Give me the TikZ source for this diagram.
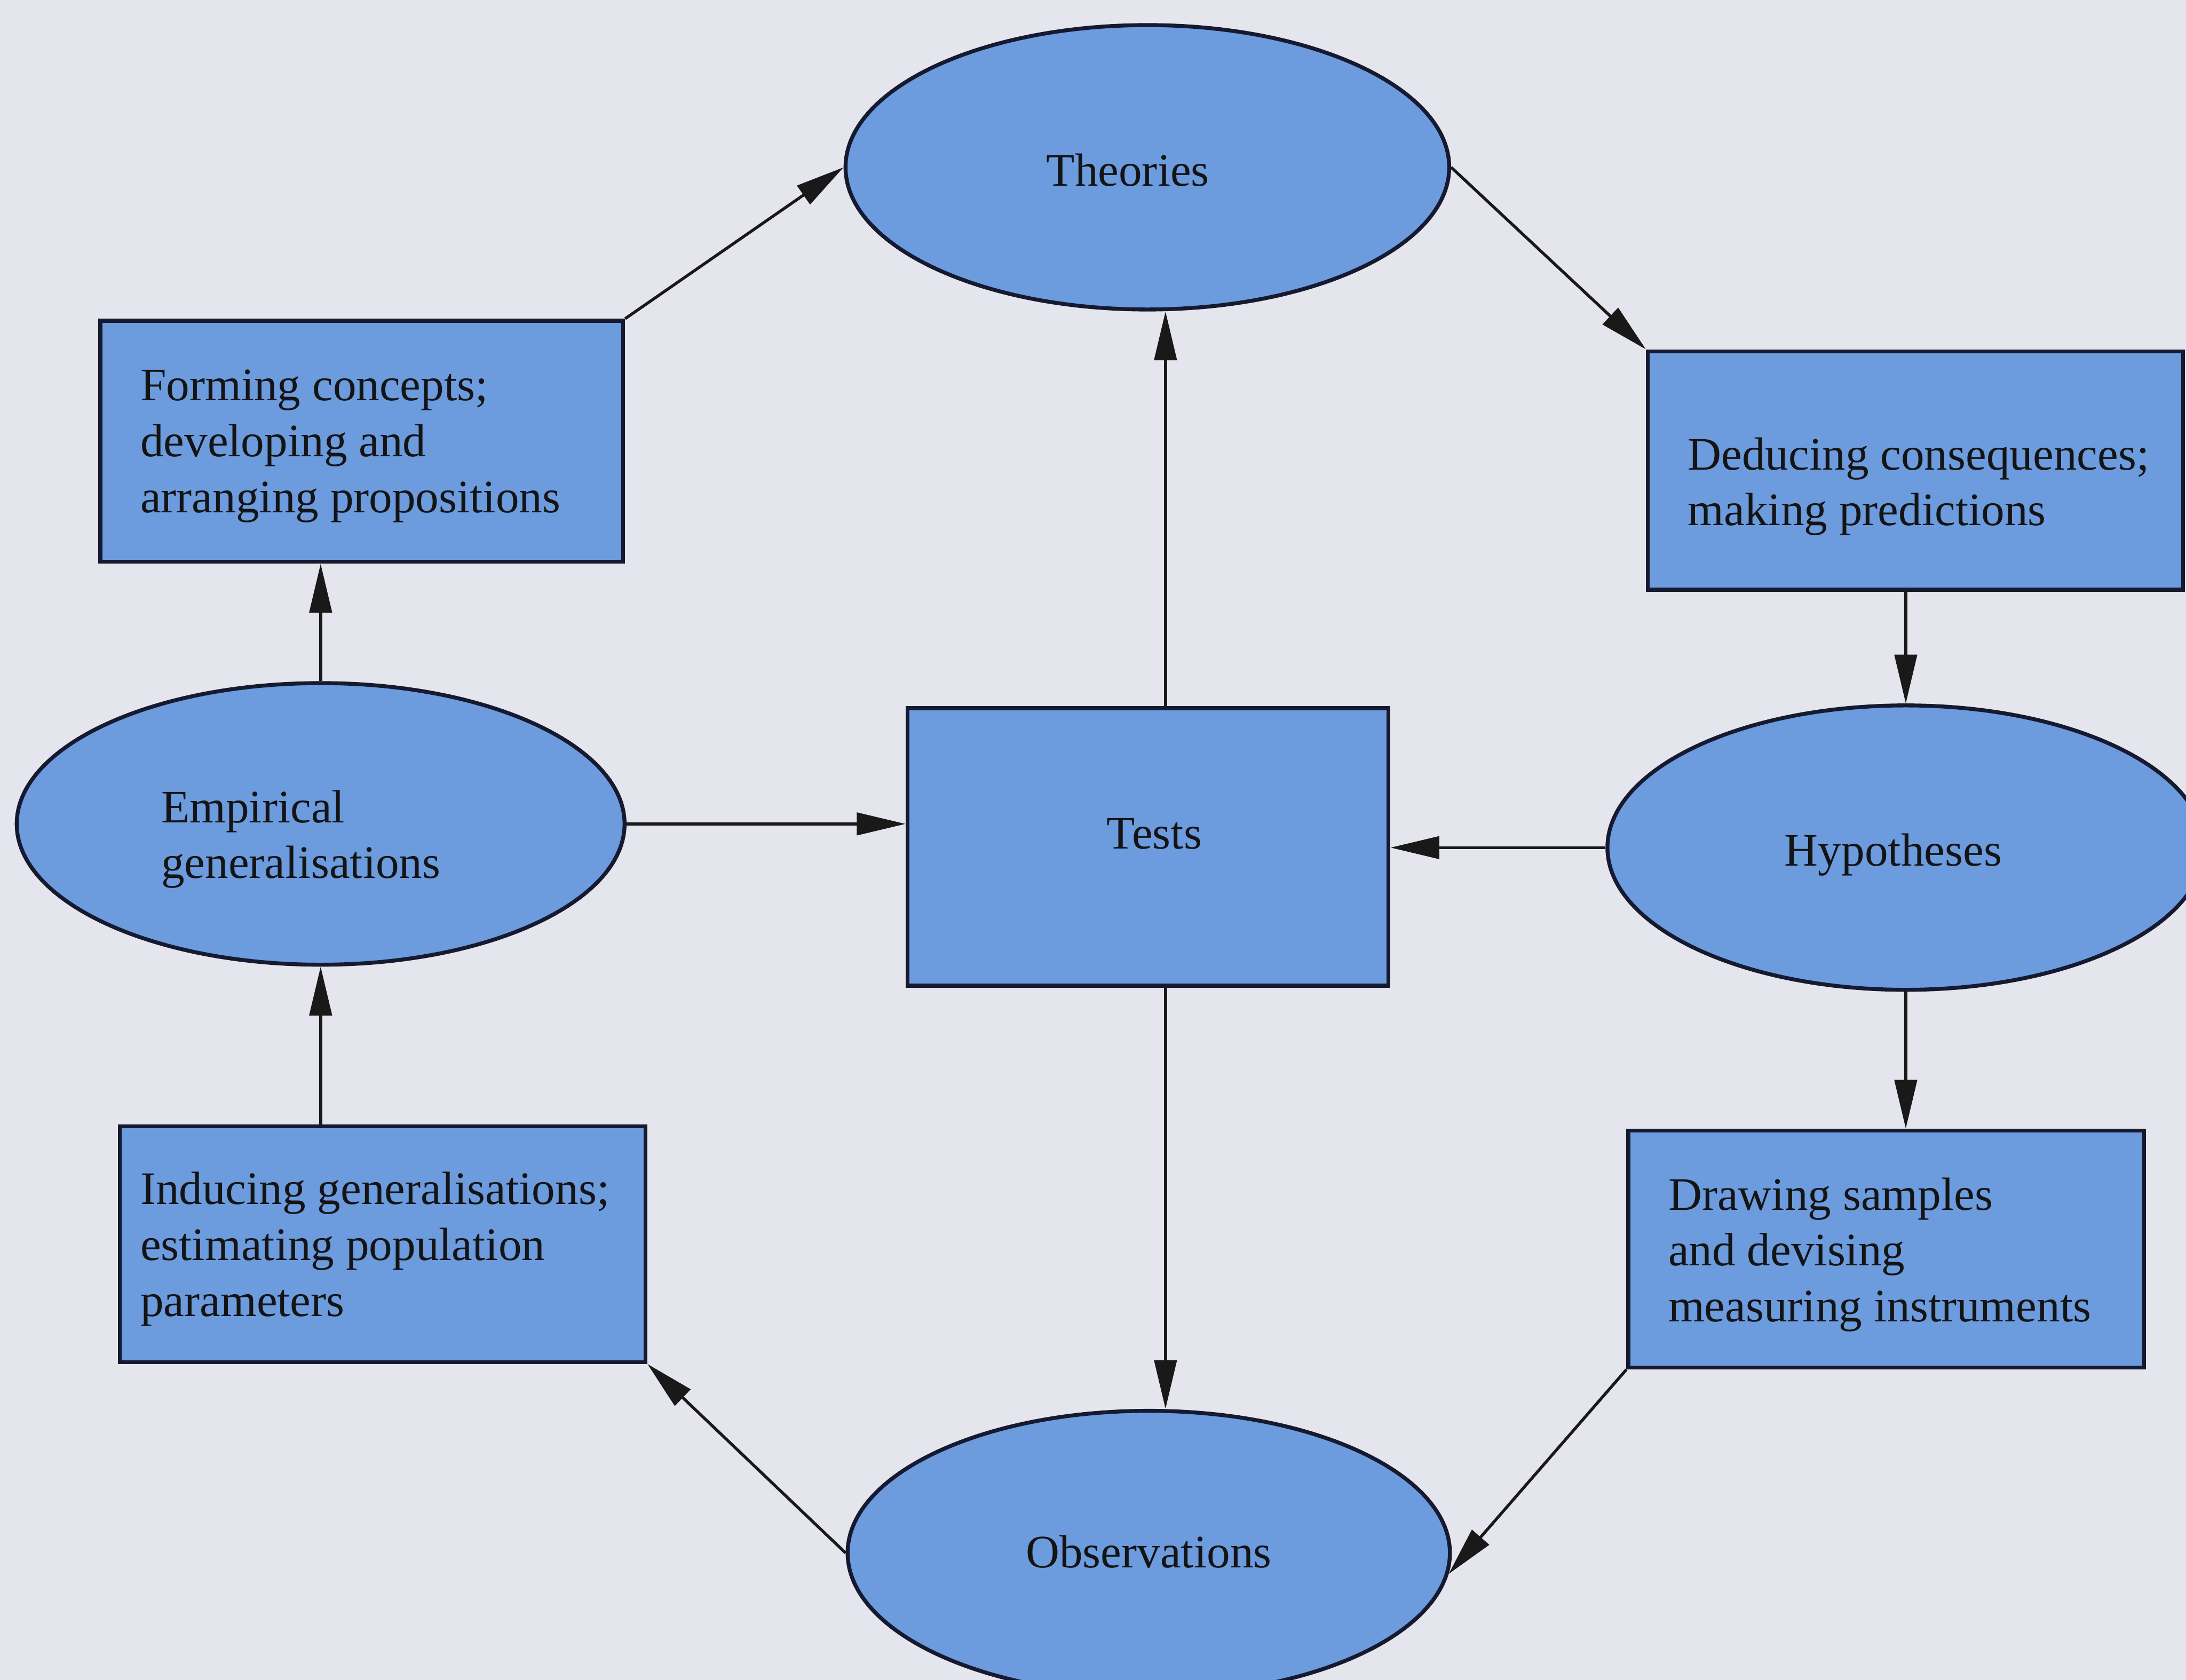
\documentclass[tikz,border=0pt]{standalone}
\usepackage{fontspec}
\setmainfont{Liberation Serif}
\usetikzlibrary{shapes.geometric,arrows.meta}
\definecolor{pagebg}{RGB}{229,229,237}
\definecolor{cellblue}{RGB}{108,155,222}
\definecolor{inkline}{RGB}{22,26,48}
\begin{document}
\begin{tikzpicture}[x=0.1mm,y=-0.1mm,
  shapebase/.style={draw=inkline, line width=0.8pt, fill=cellblue, inner sep=0pt},
  procbox/.style={shapebase, rectangle},
  stagecirc/.style={shapebase, ellipse},
  lbl/.style={font=\fontsize{9.5}{11.4}\selectfont, text=black!92, align=left, inner sep=0pt},
  flow/.style={draw=black!90, line width=0.6pt, -{Triangle[length=3.5mm,width=1.6mm]}}]
% page
\fill[pagebg] (0,0) rectangle (1568,1205);
\useasboundingbox (0,0) rectangle (1568,1205);
\coordinate (vx) at (836,0);

% stages (ellipses)
\node[stagecirc, minimum width=43.3mm, minimum height=20.4mm] (theo) at (823,120) {};
\node[stagecirc, minimum width=43.6mm, minimum height=20.2mm] (emp) at (230,591) {};
\node[stagecirc, minimum width=42.8mm, minimum height=20.4mm] (hyp) at (1367,608) {};
\node[stagecirc, minimum width=43.2mm, minimum height=20.4mm] (obs) at (824,1114) {};

% processes (boxes)
\node[procbox, minimum width=37.5mm, minimum height=17.3mm] (form) at (259.5,316.5) {};
\node[procbox, minimum width=38.4mm, minimum height=17.1mm] (ded) at (1374,337.5) {};
\node[procbox, minimum width=34.5mm, minimum height=19.9mm] (tests) at (823.5,607.5) {};
\node[procbox, minimum width=37.7mm, minimum height=16.9mm] (ind) at (274.5,892.5) {};
\node[procbox, minimum width=37.0mm, minimum height=17.0mm] (drw) at (1353,896) {};

% labels
\node[lbl] (theoT) at (809,122) {Theories};
\node[lbl] (empT) [anchor=west] at (115,602) {Empirical\\generalisations};
\node[lbl] (hypT) at (1358,613) {Hypotheses};
\node[lbl] (obsT) at (824,1113) {Observations};
\node[lbl] (testsT) at (828,598) {Tests};
\node[lbl] (formT) [anchor=west] at (100,320) {Forming concepts;\\developing and\\arranging propositions};
\node[lbl] (dedT) [anchor=west] at (1210,349) {Deducing consequences;\\making predictions};
\node[lbl] (indT) [anchor=west] at (100,896) {Inducing generalisations;\\estimating population\\parameters};
\node[lbl] (drwT) [anchor=west] at (1196,900) {Drawing samples\\and devising\\measuring instruments};

% outer cycle
\draw[flow] (form.north east) -- (theo.west);
\draw[flow] (theo.east) -- (ded.north west);
\draw[flow] (hyp.north |- ded.south) -- (hyp.north);
\draw[flow] (hyp.south) -- (hyp.south |- drw.north);
\draw[flow] (drw.south west) -- (obs.-4);
\draw[flow] (obs.west) -- (ind.south east);
\draw[flow] (emp.south |- ind.north) -- (emp.south);
\draw[flow] (emp.north) -- (emp.north |- form.south);

% links through the tests
\draw[flow] (emp.east) -- (tests.west |- emp.east);
\draw[flow] (hyp.west) -- (tests.east |- hyp.west);
\draw[flow] (tests.north -| vx) -- (theo.south -| vx);
\draw[flow] (tests.south -| vx) -- (obs.north -| vx);
\end{tikzpicture}
\end{document}
